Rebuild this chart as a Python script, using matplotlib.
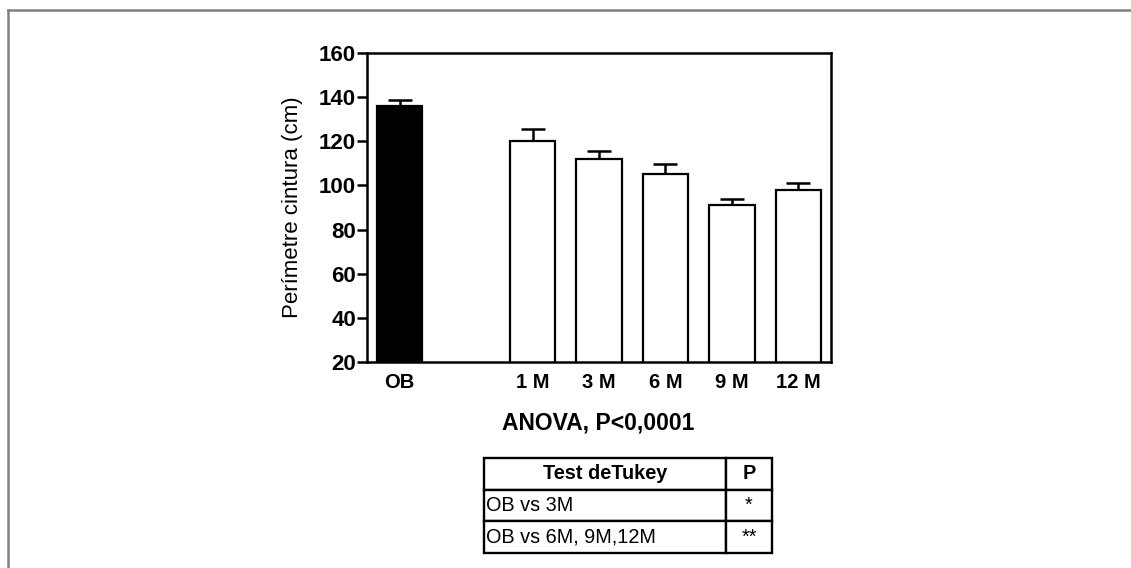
import matplotlib
matplotlib.use("Agg")
import matplotlib.pyplot as plt
from matplotlib.lines import Line2D

plt.rcParams['font.family'] = ['Liberation Sans', 'DejaVu Sans']

# data
groups = ["OB", "1 M", "3 M", "6 M", "9 M", "12 M"]
positions = [0, 2, 3, 4, 5, 6]
means = [136, 120, 112, 105, 91, 98]
sem = [2.5, 5.5, 3.8, 4.5, 3.0, 3.0]
colors = ["black", "white", "white", "white", "white", "white"]

y_ticks = [20, 40, 60, 80, 100, 120, 140, 160]
y_label = "Perímetre cintura (cm)"
anova_text = "ANOVA, P<0,0001"

table_header = ["Test deTukey", "P"]
table_rows = [["OB vs 3M", "*"], ["OB vs 6M, 9M,12M", "**"]]

W, H = 1131, 568
fig = plt.figure(figsize=(W / 100, H / 100), dpi=100)

# gray frame lines (left and top only, like the cropped original)
fig.add_artist(Line2D([8 / W, 8 / W], [0, 1 - 10 / H], color="#808080", lw=1.8))
fig.add_artist(Line2D([8 / W, 1], [1 - 10 / H, 1 - 10 / H], color="#808080", lw=1.8))

ax = fig.add_axes([367 / W, 1 - 362 / H, (831 - 367) / W, (362 - 53) / H])
ax.bar(positions, means, width=0.68, color=colors, edgecolor="black",
       linewidth=1.6, zorder=2)
ax.errorbar(positions, means, yerr=[[0] * len(sem), sem], fmt="none",
            ecolor="black", elinewidth=1.8, capsize=8.5, capthick=1.8, zorder=1)

ax.set_xlim(-0.49, 6.49)
ax.set_ylim(20, 160)
ax.set_yticks(y_ticks)
ax.set_xticks(positions)
ax.set_xticklabels(groups, fontsize=14.5, fontweight="bold")
ax.tick_params(axis="x", length=0, pad=8)
ax.tick_params(axis="y", direction="out", length=7, width=1.8, labelsize=16, pad=1)
for lbl in ax.get_yticklabels():
    lbl.set_fontweight("bold")
for s in ax.spines.values():
    s.set_linewidth(1.8)
ax.set_ylabel(y_label, fontsize=16, labelpad=11)

fig.text(598 / W, 1 - 423 / H, anova_text, fontsize=16.5, fontweight="bold",
         ha="center", va="center")

# Tukey table
tax = fig.add_axes([484 / W, 1 - 553 / H, (772 - 484) / W, (553 - 458) / H])
tax.axis("off")
tbl = tax.table(cellText=table_rows, colLabels=table_header,
                colWidths=[242 / 288, 46 / 288], bbox=[0, 0, 1, 1],
                cellLoc="left")
tbl.auto_set_font_size(False)
for (r, c), cell in tbl.get_celld().items():
    cell.set_linewidth(1.7)
    cell.set_edgecolor("black")
    txt = cell.get_text()
    txt.set_fontsize(14.3)
    if r == 0:
        txt.set_fontweight("bold")
        txt.set_ha("center")
        cell._loc = "center"
    elif c == 1:
        txt.set_ha("center")
        cell._loc = "center"
    else:
        cell.PAD = 0.01

fig.savefig("out.png", dpi=100)
